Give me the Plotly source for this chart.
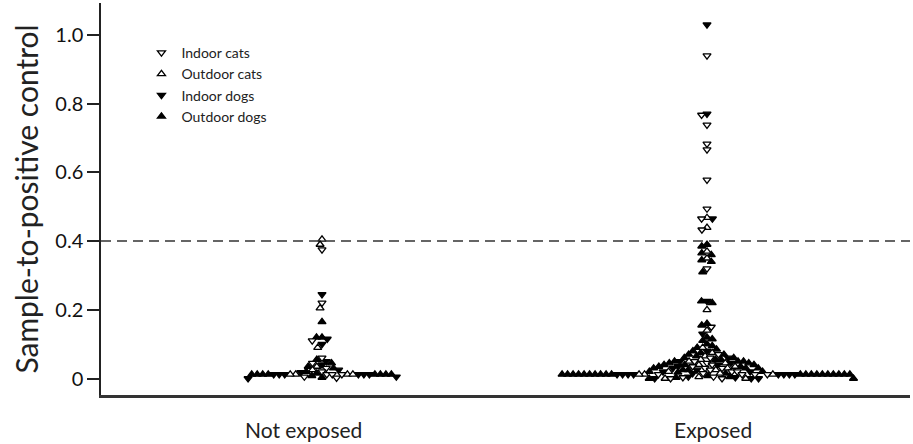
import plotly.graph_objects as go

categories = ["Not exposed", "Exposed"]
group_names = ["Indoor cats", "Outdoor cats", "Indoor dogs", "Outdoor dogs"]
y_ticks = [0, 0.2, 0.4, 0.6, 0.8, 1.0]
y_tick_text = ["0", "0.2", "0.4", "0.6", "0.8", "1.0"]
cutoff = 0.4

# ---- Not exposed ----
ne_indoor_cats = [0.375, 0.22, 0.11, 0.06, 0.045, 0.03, 0.02, 0.012, 0.012, 0.012, 0.005, 0.002]
ne_outdoor_cats = [0.405, 0.39, 0.205, 0.09, 0.035, 0.025, 0.012, 0.012, 0.012, 0.012]
ne_indoor_dogs = [0.245, 0.115, 0.10, 0.05, 0.04, 0.025, 0.018, 0.012, 0.012, 0.012, 0.012,
                  0.012, 0.012, 0.005, 0.0]
ne_outdoor_dogs = [0.165, 0.12, 0.12, 0.055, 0.045, 0.035, 0.03, 0.02, 0.015, 0.012, 0.012,
                   0.012, 0.012, 0.012, 0.012, 0.012, 0.012, 0.008, 0.003]

# ---- Exposed ----
ex_indoor_cats = [0.94, 0.767, 0.738, 0.683, 0.666, 0.578, 0.494, 0.465, 0.433, 0.32, 0.15,
                  0.07, 0.06, 0.05, 0.045, 0.04, 0.035, 0.03, 0.03, 0.025, 0.02, 0.02, 0.015,
                  0.005, 0.003, 0.0, 0.0, 0.012, 0.012, 0.012, 0.012]
ex_outdoor_cats = [0.468, 0.439, 0.37, 0.35, 0.2, 0.14, 0.09, 0.075, 0.065, 0.055, 0.05, 0.045,
                   0.04, 0.035, 0.03, 0.025, 0.02, 0.015, 0.005, 0.0, 0.0,
                   0.012, 0.012, 0.012]
ex_indoor_dogs = [1.03, 0.77, 0.465, 0.225, 0.13, 0.08, 0.06, 0.05, 0.045, 0.04, 0.035, 0.03,
                  0.025, 0.02, 0.02, 0.015, 0.005, 0.003, 0.0, 0.0, 0.0,
                  0.012, 0.012, 0.012, 0.012, 0.012, 0.012, 0.012, 0.012]
ex_outdoor_dogs = [0.39, 0.385, 0.365, 0.36, 0.345, 0.34, 0.31, 0.225, 0.22, 0.16, 0.155, 0.12,
                   0.115, 0.11, 0.10, 0.095, 0.09, 0.085, 0.08, 0.075, 0.07, 0.07, 0.065, 0.06,
                   0.06, 0.055, 0.055, 0.05, 0.05, 0.05, 0.045, 0.045, 0.04, 0.04, 0.04, 0.035,
                   0.035, 0.03, 0.03, 0.03, 0.025, 0.025, 0.02, 0.02, 0.018, 0.015, 0.008, 0.005,
                   0.003, 0.0, 0.0,
                   0.012, 0.012, 0.012, 0.012, 0.012, 0.012, 0.012, 0.012, 0.012, 0.012,
                   0.012, 0.012, 0.012, 0.012, 0.012, 0.012, 0.012, 0.012, 0.012, 0.012]

data = {
    0: {"Indoor cats": ne_indoor_cats, "Outdoor cats": ne_outdoor_cats,
        "Indoor dogs": ne_indoor_dogs, "Outdoor dogs": ne_outdoor_dogs},
    1: {"Indoor cats": ex_indoor_cats, "Outdoor cats": ex_outdoor_cats,
        "Indoor dogs": ex_indoor_dogs, "Outdoor dogs": ex_outdoor_dogs},
}

styles = {
    "Indoor cats": dict(symbol="triangle-down", color="white"),
    "Outdoor cats": dict(symbol="triangle-up", color="white"),
    "Indoor dogs": dict(symbol="triangle-down", color="black"),
    "Outdoor dogs": dict(symbol="triangle-up", color="black"),
}

# layout geometry (px)
W, H = 913, 444
ML, MR, MT, MB = 101, 3, 3, 49
Y_RANGE = [-0.048, 1.093]
PX_PER_CAT = 385.0
CAT0_PX = 322 - ML
X_RANGE = [-CAT0_PX / PX_PER_CAT, (W - MR - ML - CAT0_PX) / PX_PER_CAT]
PX_PER_Y = (H - MT - MB) / (Y_RANGE[1] - Y_RANGE[0])


def swarm(values, d):
    """Beeswarm horizontal offsets (px) for values, points placed from high to low."""
    order = sorted(range(len(values)), key=lambda i: -values[i])
    placed = []
    offs = [0.0] * len(values)
    for i in order:
        y = values[i] * PX_PER_Y
        cands = [0.0]
        for px, py in placed:
            dy = abs(py - y)
            if dy < d:
                dx = (d * d - dy * dy) ** 0.5
                cands += [px + dx, px - dx]
        cands.sort(key=lambda c: (round(abs(c), 6), c))
        chosen = 0.0
        for c in cands:
            if all((c - px) ** 2 + (y - py) ** 2 >= d * d - 1e-6 for px, py in placed):
                chosen = c
                break
        placed.append((chosen, y))
        offs[i] = chosen
    return offs


# compute swarm positions per category
positions = {g: ([], []) for g in group_names}
for cat in (0, 1):
    vals, labs = [], []
    for g in group_names:
        vals += data[cat][g]
        labs += [g] * len(data[cat][g])
    offs = swarm(vals, 5.5)
    for v, l, o in zip(vals, labs, offs):
        positions[l][0].append(cat + o / PX_PER_CAT)
        positions[l][1].append(v)

fig = go.Figure()
draw_order = ["Outdoor dogs", "Indoor dogs", "Outdoor cats", "Indoor cats"]
for g in draw_order:
    st = styles[g]
    fig.add_trace(go.Scatter(
        x=positions[g][0], y=positions[g][1], mode="markers", name=g,
        legendrank=group_names.index(g) + 1,
        marker=dict(symbol=st["symbol"], size=7, color=st["color"],
                    line=dict(color="black", width=1.3)),
        hoverinfo="skip",
    ))

fig.add_shape(type="line", xref="paper", x0=0, x1=1, yref="y", y0=cutoff, y1=cutoff,
              line=dict(color="#333", width=1.5, dash="10px,6px"))

label_shift = [-19, 6]
for i, c in enumerate(categories):
    fig.add_annotation(x=i, y=-0.089, xref="x", yref="paper", text=c, showarrow=False,
                       xshift=label_shift[i], font=dict(family="Lato", size=21, color="#222"),
                       yanchor="middle")

fig.update_layout(
    width=W, height=H,
    margin=dict(l=ML, r=MR, t=MT, b=MB),
    plot_bgcolor="white", paper_bgcolor="white",
    font=dict(family="Lato", color="#222"),
    showlegend=True,
    legend=dict(x=0.05, y=0.913, xanchor="left", yanchor="top",
                bgcolor="rgba(0,0,0,0)", font=dict(family="Lato", size=14, color="#222"),
                tracegroupgap=0),
    xaxis=dict(range=X_RANGE, showgrid=False, zeroline=False, showline=True,
               linecolor="#333", linewidth=2.5, showticklabels=False, ticks=""),
    yaxis=dict(range=Y_RANGE, showgrid=False, zeroline=False, showline=True,
               linecolor="#222", linewidth=1.5, ticks="outside", ticklen=12,
               tickwidth=1.5, tickcolor="#222", tickvals=y_ticks, ticktext=y_tick_text,
               tickfont=dict(family="Lato", size=20, color="#111"),
               title=dict(text="Sample-to-positive control",
                          font=dict(family="Lato", size=30, color="#222"), standoff=8)),
)

fig.write_html("out.html", post_script="document.body.style.margin='0';",
               config={"displayModeBar": False})
